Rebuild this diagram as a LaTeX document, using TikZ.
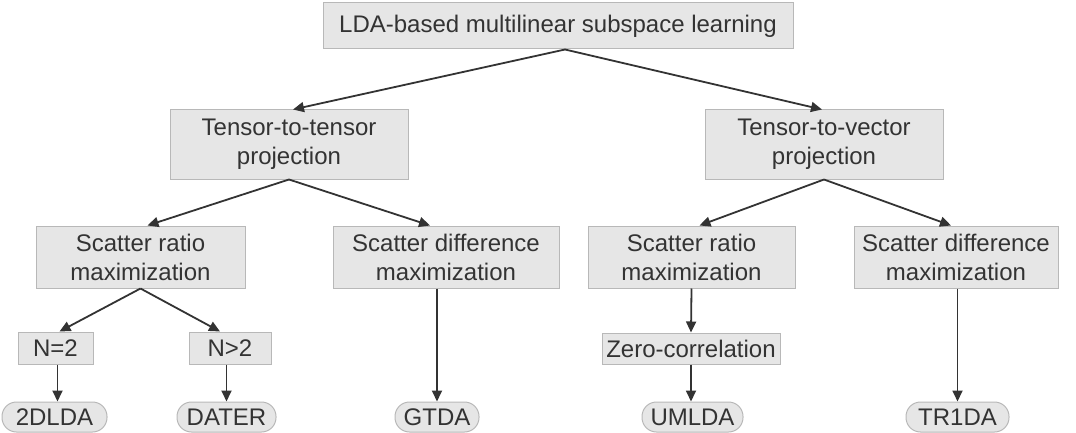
\documentclass[tikz,border=0pt]{standalone}
\usepackage{fontspec}
\setmainfont{Liberation Sans}
\usetikzlibrary{arrows.meta}
\definecolor{boxfill}{HTML}{E6E6E6}
\definecolor{boxline}{HTML}{B8B8B8}
\definecolor{ink}{HTML}{333333}
\begin{document}
\begin{tikzpicture}[x=1pt,y=-1pt,
  every node/.style={font=\fontsize{24}{29}\selectfont, text=ink, align=center, inner sep=0pt},
  box/.style={draw=boxline, fill=boxfill, line width=1pt},
  leaf/.style={draw=boxline, fill=boxfill, line width=1pt, rounded corners=14.5pt, minimum height=30pt},
  arr/.style={draw=ink, line width=1.8pt, -{Triangle[length=11pt,width=10pt]}}
]
\useasboundingbox (0,0) rectangle (1076,433);
\node[box, minimum width=470pt, minimum height=46pt] (top) at (558,26) {LDA-based multilinear subspace learning};
\node[box, minimum width=238pt, minimum height=69pt] (ttt) at (289,144.5) {Tensor-to-tensor\\projection};
\node[box, minimum width=238pt, minimum height=69pt] (ttv) at (824,144.5) {Tensor-to-vector\\projection};
\node[box, minimum width=209pt, minimum height=62pt] (srl) at (140.5,257) {Scatter ratio\\maximization};
\node[box, minimum width=226pt, minimum height=62pt] (sdl) at (446,257) {Scatter difference\\maximization};
\node[box, minimum width=207pt, minimum height=62pt] (srr) at (691.5,257) {Scatter ratio\\maximization};
\node[box, minimum width=204pt, minimum height=62pt] (sdr) at (956,257) {Scatter difference\\maximization};
\node[box, minimum width=75pt, minimum height=32pt] (n2) at (55.5,348) {N=2};
\node[box, minimum width=82pt, minimum height=32pt] (ng2) at (230,348) {N>2};
\node[box, minimum width=178pt, minimum height=31pt] (zc) at (691,348.5) {Zero-correlation};
\node[leaf, minimum width=105pt] (l1) at (54.5,417) {2DLDA};
\node[leaf, minimum width=99pt] (l2) at (226.5,417) {DATER};
\node[leaf, minimum width=84pt] (l3) at (437,417) {GTDA};
\node[leaf, minimum width=101pt] (l4) at (692.5,417) {UMLDA};
\node[leaf, minimum width=103pt] (l5) at (957.5,417) {TR1DA};
\draw[arr] ([xshift=7pt]top.south) -- ([xshift=4pt]ttt.north);
\draw[arr] ([xshift=7pt]top.south) -- ([xshift=-2pt]ttv.north);
\draw[arr] (ttt.south) -- ([xshift=7pt]srl.north);
\draw[arr] (ttt.south) -- ([xshift=-16pt]sdl.north);
\draw[arr] (ttv.south) -- ([xshift=8pt]srr.north);
\draw[arr] (ttv.south) -- ([xshift=-5pt]sdr.north);
\draw[arr] (srl.south) -- ([xshift=4pt]n2.north);
\draw[arr] (srl.south) -- ([xshift=-10pt]ng2.north);
\draw[arr] ([xshift=2pt]n2.south) -- ([xshift=2pt]n2.south |- l1.north);
\draw[arr] (ng2.south -| l2.north) -- (l2.north);
\draw[arr] (sdl.south -| l3.north) -- (l3.north);
\draw[arr] (srr.south) -- (zc.north);
\draw[arr] (zc.south) -- (zc.south |- l4.north);
\draw[arr] (sdr.south -| l5.north) -- (l5.north);
\end{tikzpicture}
\end{document}
